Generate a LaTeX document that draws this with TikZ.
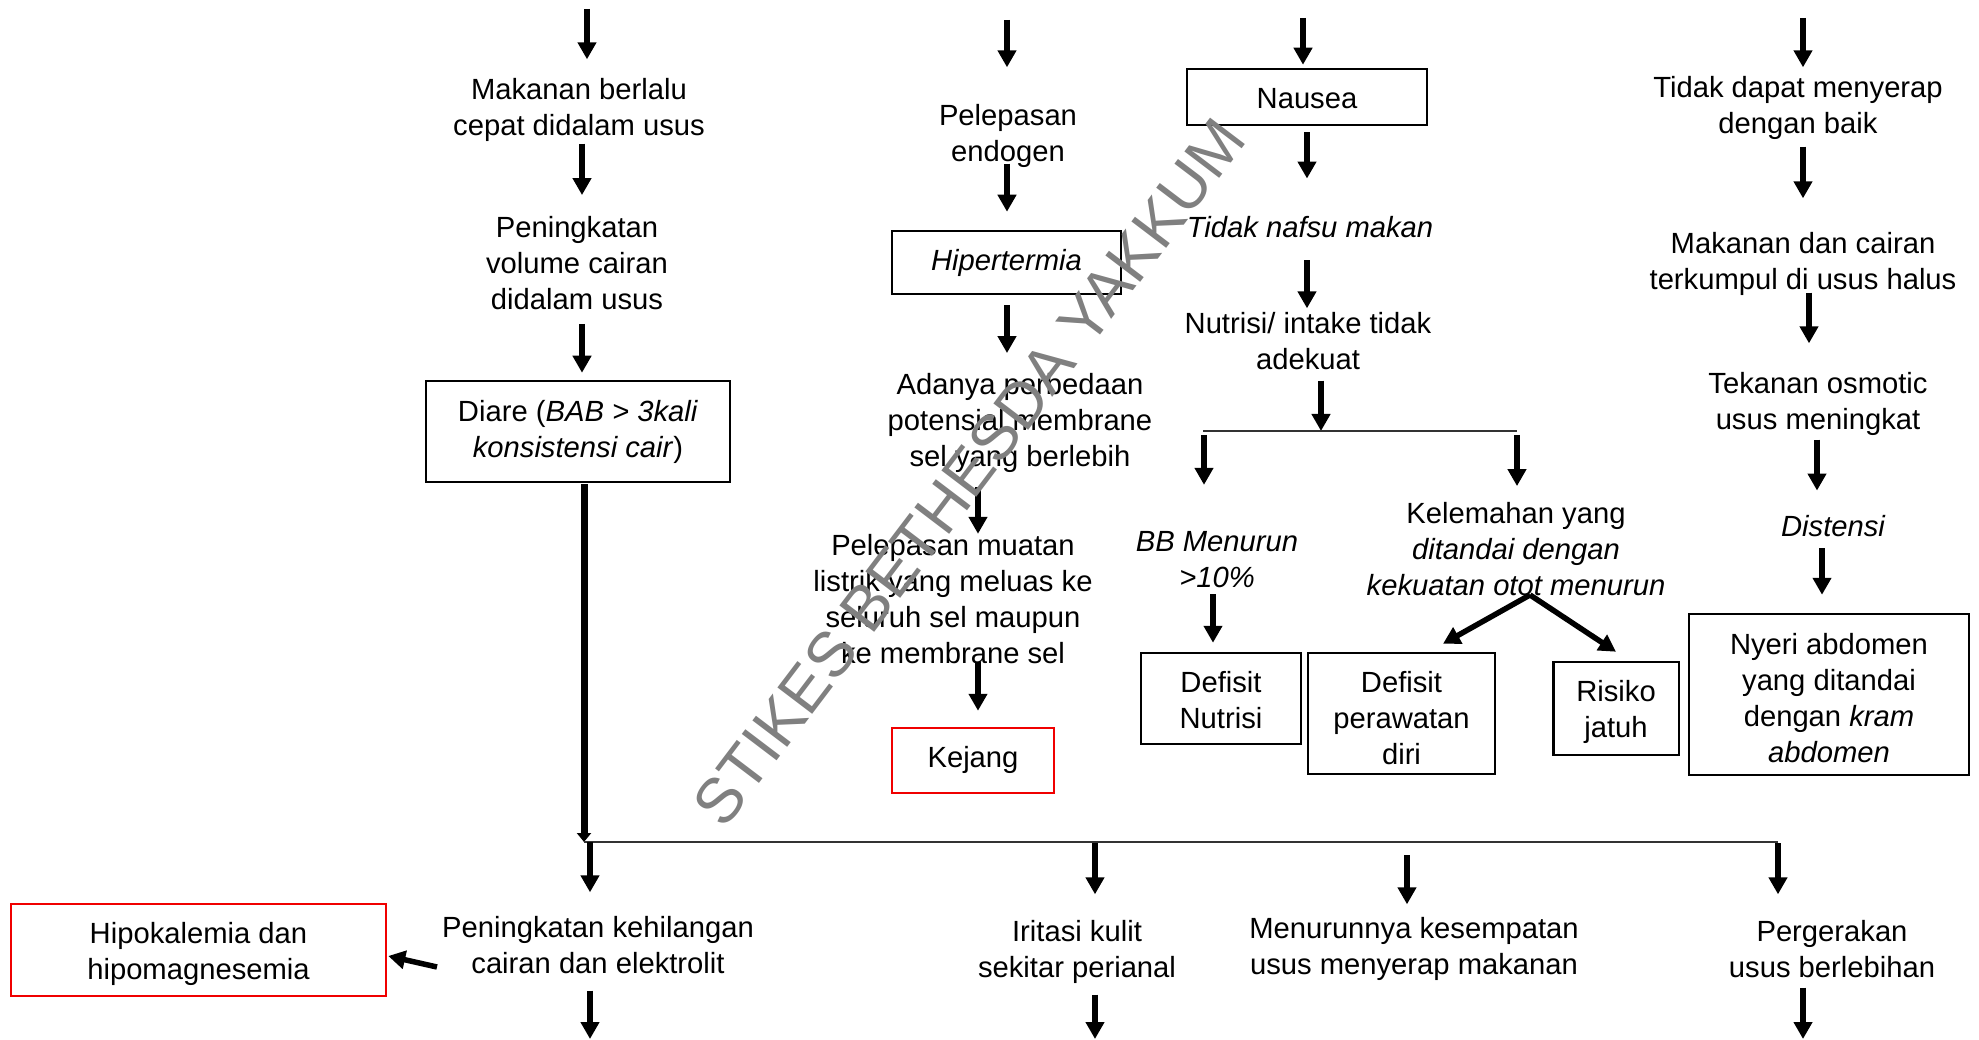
\documentclass[tikz,border=0pt]{standalone}
\usepackage{fontspec}
\setmainfont{Liberation Sans}
\usetikzlibrary{arrows.meta,calc}
\definecolor{wmgray}{RGB}{128,128,128}
\definecolor{boxred}{RGB}{240,0,0}
\newcommand\fs{\fontsize{29.2pt}{36pt}\selectfont}
\begin{document}
\begin{tikzpicture}[x=1pt,y=-1pt,
 txt/.style={inner sep=0pt,align=center,font=\fs,execute at begin node=\strut,execute at end node=\strut},
 bx/.style={draw,line width=2.5pt,inner sep=0pt},
 rbx/.style={bx,draw=boxred},
 arr/.style={line width=5.5pt,-{Triangle[width=18pt,length=17pt]}},
 darr/.style={line width=7pt,-{Triangle[width=14pt,length=9pt]}},
 hline/.style={line width=1.5pt,draw=black!80},
 wm/.style={inner sep=0pt,font=\fontsize{63.5pt}{64pt}\selectfont,rotate=52.8}
]
\useasboundingbox (0,0) rectangle (1979,1040);
\fill[white] (0,0) rectangle (1979,1040);

% column 1
\node[txt] (T1) at (579,112) {Makanan berlalu\\cepat didalam usus};
\node[txt] (T2) at (577,268.5) {Peningkatan\\volume cairan\\didalam usus};
\node[bx,minimum width=304pt,minimum height=101pt,
  label={[txt,yshift=-3pt]center:{Diare (\textit{BAB > 3kali}\\\textit{konsistensi cair})}}] (D) at (578,431.5) {};
% column 2
\node[txt] (P1) at (1008,138) {Pelepasan\\endogen};
\node[bx,minimum width=229pt,minimum height=63pt,
  label={[txt,font=\fs\itshape,yshift=-1pt]center:Hipertermia}] (H) at (1006.5,262.5) {};
\node[txt] (P2) at (1020,425) {Adanya perbedaan\\potensial membrane\\sel yang berlebih};
\node[txt] (P3) at (953,604) {Pelepasan muatan\\listrik yang meluas ke\\seluruh sel maupun\\ke membrane sel};
\node[rbx,minimum width=162pt,minimum height=65pt,
  label={[txt]center:Kejang}] (KJ) at (973,760.5) {};
% column 3
\node[bx,minimum width=240pt,minimum height=56pt,
  label={[txt,yshift=-4pt]center:Nausea}] (NA) at (1307,97) {};
\node[txt,font=\fs\itshape] (N2) at (1310,230) {Tidak nafsu makan};
\node[txt] (N3) at (1308,346) {Nutrisi/ intake tidak\\adekuat};
\node[txt,font=\fs\itshape] (BB) at (1217,565) {BB Menurun\\>10\%};
\node[bx,minimum width=160pt,minimum height=91pt,
  label={[txt,yshift=-7pt]center:{Defisit\\Nutrisi}}] (DN) at (1221,698.5) {};
\node[txt] (KL) at (1516,554) {Kelemahan yang\\\textit{ditandai dengan}\\\textit{kekuatan otot menurun}};
\node[bx,minimum width=187pt,minimum height=121pt,
  label={[txt,yshift=-10pt]center:{Defisit\\perawatan\\diri}}] (DP) at (1401.5,713.5) {};
\node[bx,minimum width=125.5pt,minimum height=93pt,
  label={[txt,yshift=-5.5pt]center:{Risiko\\jatuh}}] (RJ) at (1616,708.5) {};
% column 4
\node[txt] (R1) at (1798,110.5) {Tidak dapat menyerap\\dengan baik};
\node[txt] (R2) at (1803,266.5) {Makanan dan cairan\\terkumpul di usus halus};
\node[txt] (R3) at (1818,406.5) {Tekanan osmotic\\usus meningkat};
\node[txt,font=\fs\itshape] (R4) at (1833,529) {Distensi};
\node[bx,minimum width=280pt,minimum height=161pt,
  label={[txt,yshift=-9pt]center:{Nyeri abdomen\\yang ditandai\\dengan \textit{kram}\\\textit{abdomen}}}] (NY) at (1829,694.5) {};
% bottom row
\node[txt] (B1) at (598,950.5) {Peningkatan kehilangan\\cairan dan elektrolit};
\node[txt] (B2) at (1077,954.5) {Iritasi kulit\\sekitar perianal};
\node[txt] (B3) at (1414,951.5) {Menurunnya kesempatan\\usus menyerap makanan};
\node[txt] (B4) at (1832,954.5) {Pergerakan\\usus berlebihan};
\node[rbx,minimum width=375pt,minimum height=92pt,
  label={[txt,yshift=-6pt]center:{Hipokalemia dan\\hipomagnesemia}}] (HK) at (198.5,950) {};

% free ends and junctions
\coordinate (top1) at (587,9);
\coordinate (top2) at (1007,20);
\coordinate (top3) at (1303,18);
\coordinate (top4) at (1803,18);
\coordinate (J) at (584,842);
\coordinate (J1) at (590,842);
\coordinate (J2) at (1095,842);
\coordinate (J3) at (1407,842);
\coordinate (Jr) at (1778,842);
\coordinate (bot1) at (590,1039);
\coordinate (bot2) at (1095,1039);
\coordinate (bot4) at (1803,1039);
\coordinate (L1) at (1203,431);
\coordinate (L2) at (1517,431);
\coordinate (Lm) at (1321,431);

% column 1 arrows
\draw[arr] (top1) -- ($(T1.north)+(8,-18.5)$);
\draw[arr] ($(T1.south)+(3,-2.5)$) -- ($(T2.north)+(5,-21.25)$);
\draw[arr] ($(T2.south)+(5,3.25)$) -- ($(D.north)+(4,-7)$);
\draw[darr] ($(D.south)+(6,1)$) -- (J);
\draw[hline] (J) -- (Jr);
\draw[arr] (J1) -- ($(B1.north)+(-8,-24)$);
\draw[arr] ($(B1.south)+(-8,6)$) -- (bot1);
\draw[arr] ($(B1.center)+(-161,16.5)$) -- ($(HK.east)+(1,6)$);
\draw[arr] ($(J2)+(0,1)$) -- ($(B2.north)+(18,-26)$);
\draw[arr] ($(B2.south)+(18,6)$) -- (bot2);
\draw[arr] ($(J3)+(0,13)$) -- ($(B3.north)+(-7,-13)$);
\draw[arr] ($(Jr)+(0,1)$) -- ($(B4.north)+(-54,-26)$);
\draw[arr] ($(B4.south)+(-29,-1)$) -- (bot4);
% column 2 arrows
\draw[arr] (top2) -- ($(P1.north)+(-1,-36.5)$);
\draw[arr] ($(P1.south)+(-1,-8.5)$) -- ($(H.north)+(0.5,-18)$);
\draw[arr] ($(H.south)+(0.5,10)$) -- ($(P2.north)+(-13,-19.75)$);
\draw[arr] ($(P2.south)+(-42,9.75)$) -- ($(P3.north)+(25,0)$);
\draw[arr] ($(P3.south)+(25,-12)$) -- ($(KJ.north)+(5,-16)$);
% column 3 arrows
\draw[arr] (top3) -- ($(NA.north)+(-4,-3)$);
\draw[arr] ($(NA.south)+(0,6)$) -- ($(N2.north)+(-3,-33.25)$);
\draw[arr] ($(N2.south)+(-3,12.25)$) -- ($(N3.north)+(-1,-3.5)$);
\draw[arr] ($(N3.south)+(13,0.5)$) -- (Lm);
\draw[hline] (L1) -- (L2);
\draw[arr] ($(L1)+(1,4)$) -- ($(BB.north)+(-13,-46.5)$);
\draw[arr] ($(L2)+(0,4)$) -- ($(KL.north)+(1,-15.75)$);
\draw[arr] ($(BB.south)+(-4,-4.5)$) -- ($(DN.north)+(-8,-9)$);
\draw[arr] ($(KL.south)+(14,-11.25)$) -- ($(DP.north)+(41.5,-8)$);
\draw[arr] ($(KL.south)+(14,-11.25)$) -- ($(RJ.north)+(0,-9)$);
% column 4 arrows
\draw[arr] (top4) -- ($(R1.north)+(5,-9)$);
\draw[arr] ($(R1.south)+(5,2)$) -- ($(R2.north)+(0,-34)$);
\draw[arr] ($(R2.south)+(6,-8)$) -- ($(R3.north)+(-9,-29)$);
\draw[arr] ($(R3.south)+(-1,-1)$) -- ($(R4.north)+(-16,-20.25)$);
\draw[arr] ($(R4.south)+(-11,1.25)$) -- ($(NY.north)+(-7,-18)$);

% watermark
\node[wm,text=wmgray] (wm) at (969,472) {STIKES BETHESDA YAKKUM};
\end{tikzpicture}
\end{document}
